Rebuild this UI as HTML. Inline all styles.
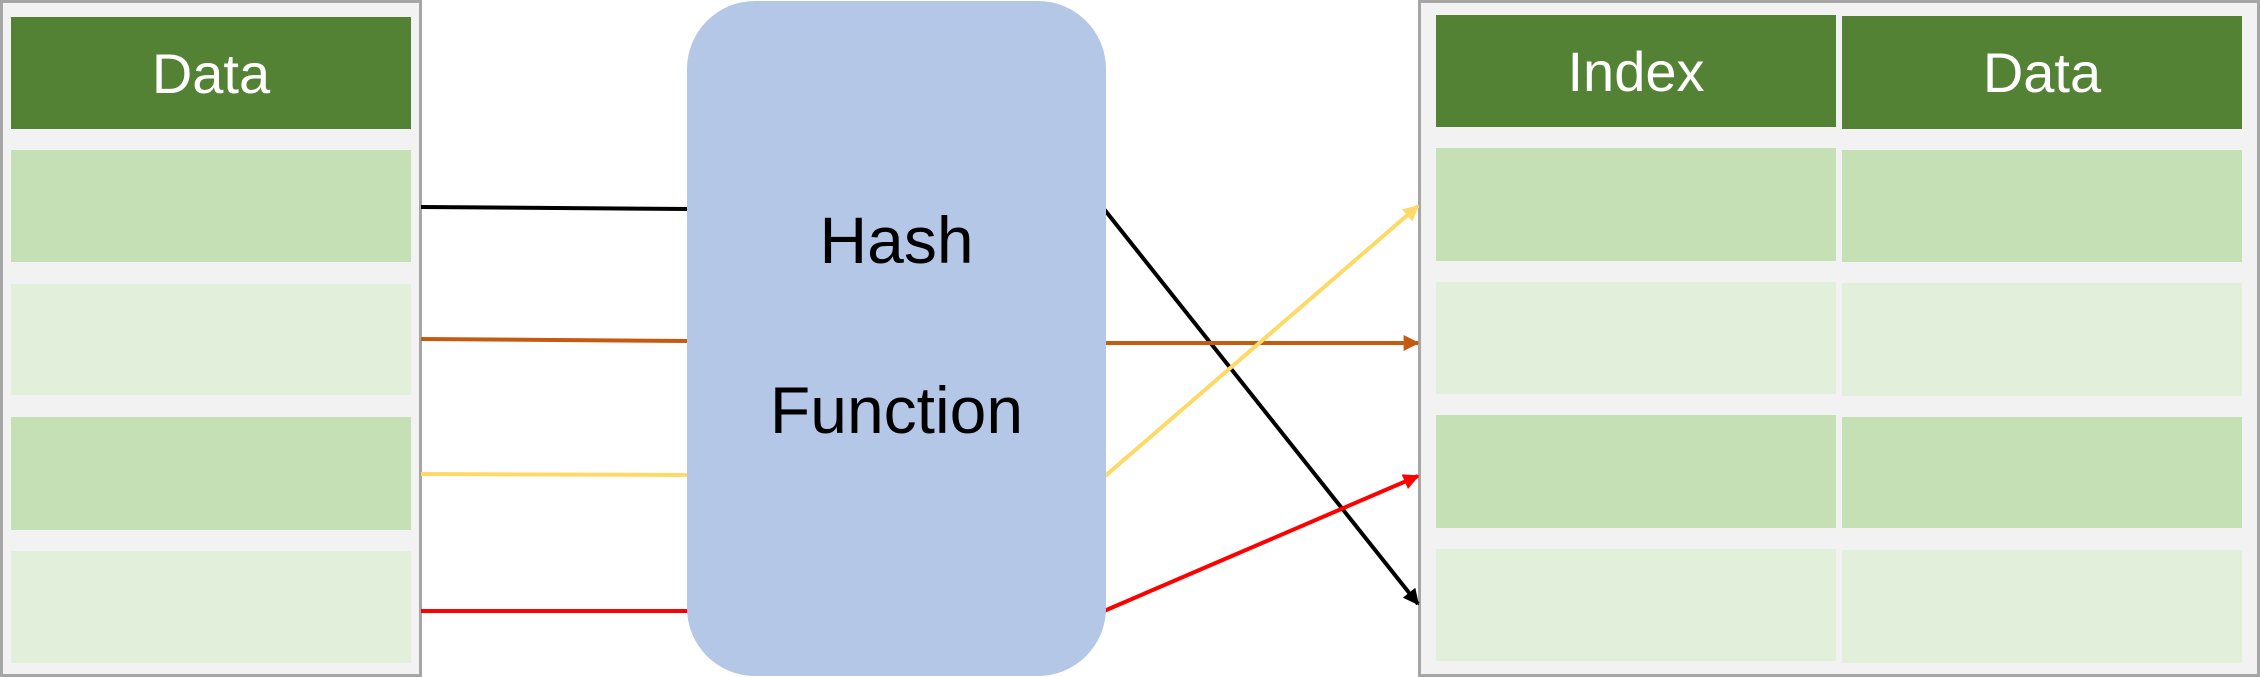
<!DOCTYPE html>
<html><head><style>
html,body{margin:0;padding:0;background:#fff;}
body{width:2260px;height:677px;position:relative;overflow:hidden;font-family:"Liberation Sans",sans-serif;}
.a{position:absolute;box-sizing:border-box;}
.p{background:#f2f2f2;border:3px solid #a6a6a6;}
.h{background:#548235;color:#fff;font-size:56px;display:flex;align-items:center;justify-content:center;}
.d{background:#c5e0b4;}
.l{background:#e2efda;}
</style></head><body>
<div class="a p" style="left:0;top:0;width:422px;height:677px"></div>
<div class="a h" style="left:11px;top:17px;width:400px;height:112px">Data</div>
<div class="a d" style="left:11px;top:150px;width:400px;height:112px"></div>
<div class="a l" style="left:11px;top:284px;width:400px;height:111px"></div>
<div class="a d" style="left:11px;top:417px;width:400px;height:113px"></div>
<div class="a l" style="left:11px;top:551px;width:400px;height:112px"></div>

<div class="a p" style="left:1418px;top:0;width:842px;height:677px"></div>
<div class="a h" style="left:1436px;top:15px;width:400px;height:112px">Index</div>
<div class="a h" style="left:1842px;top:16px;width:400px;height:113px">Data</div>
<div class="a d" style="left:1436px;top:148px;width:400px;height:113px"></div>
<div class="a d" style="left:1842px;top:150px;width:400px;height:112px"></div>
<div class="a l" style="left:1436px;top:282px;width:400px;height:112px"></div>
<div class="a l" style="left:1842px;top:283px;width:400px;height:113px"></div>
<div class="a d" style="left:1436px;top:415px;width:400px;height:113px"></div>
<div class="a d" style="left:1842px;top:417px;width:400px;height:111px"></div>
<div class="a l" style="left:1436px;top:549px;width:400px;height:112px"></div>
<div class="a l" style="left:1842px;top:550px;width:400px;height:113px"></div>

<svg class="a" style="left:0;top:0" width="2260" height="677">
<defs>
<marker id="mk" viewBox="0 0 10 10" refX="9" refY="5" markerWidth="4" markerHeight="4" orient="auto"><path d="M0,0L10,5L0,10z" fill="context-stroke"/></marker>
<marker id="k" viewBox="0 0 10 10" refX="9" refY="5" markerWidth="4" markerHeight="4" orient="auto"><path d="M0,0L10,5L0,10z" fill="#000"/></marker>
<marker id="o" viewBox="0 0 10 10" refX="9" refY="5" markerWidth="4" markerHeight="4" orient="auto"><path d="M0,0L10,5L0,10z" fill="#c55a11"/></marker>
<marker id="y" viewBox="0 0 10 10" refX="9" refY="5" markerWidth="4" markerHeight="4" orient="auto"><path d="M0,0L10,5L0,10z" fill="#ffd966"/></marker>
<marker id="r" viewBox="0 0 10 10" refX="9" refY="5" markerWidth="4" markerHeight="4" orient="auto"><path d="M0,0L10,5L0,10z" fill="#ff0000"/></marker>
</defs>
<line x1="421" y1="207" x2="690" y2="209" stroke="#000" stroke-width="4"/>
<line x1="421" y1="339" x2="690" y2="341" stroke="#c55a11" stroke-width="4"/>
<line x1="421" y1="474" x2="690" y2="475" stroke="#ffd966" stroke-width="4"/>
<line x1="421" y1="611" x2="690" y2="611" stroke="#ff0000" stroke-width="4"/>
<line x1="1104" y1="209" x2="1418" y2="604" stroke="#000" stroke-width="4" marker-end="url(#k)"/>
<line x1="1104" y1="343" x2="1418" y2="343" stroke="#c55a11" stroke-width="4" marker-end="url(#o)"/>
<line x1="1104" y1="477" x2="1418" y2="206" stroke="#ffd966" stroke-width="4" marker-end="url(#y)"/>
<line x1="1104" y1="611" x2="1418" y2="476" stroke="#ff0000" stroke-width="4" marker-end="url(#r)"/>
</svg>

<div class="a" style="left:687px;top:1px;width:419px;height:675px;background:#b4c7e7;border-radius:68px;"></div>
<div class="a" style="left:687px;top:200px;width:419px;text-align:center;font-size:66px;line-height:80px;color:#000">Hash</div>
<div class="a" style="left:687px;top:370px;width:419px;text-align:center;font-size:66px;line-height:80px;color:#000">Function</div>
</body></html>
